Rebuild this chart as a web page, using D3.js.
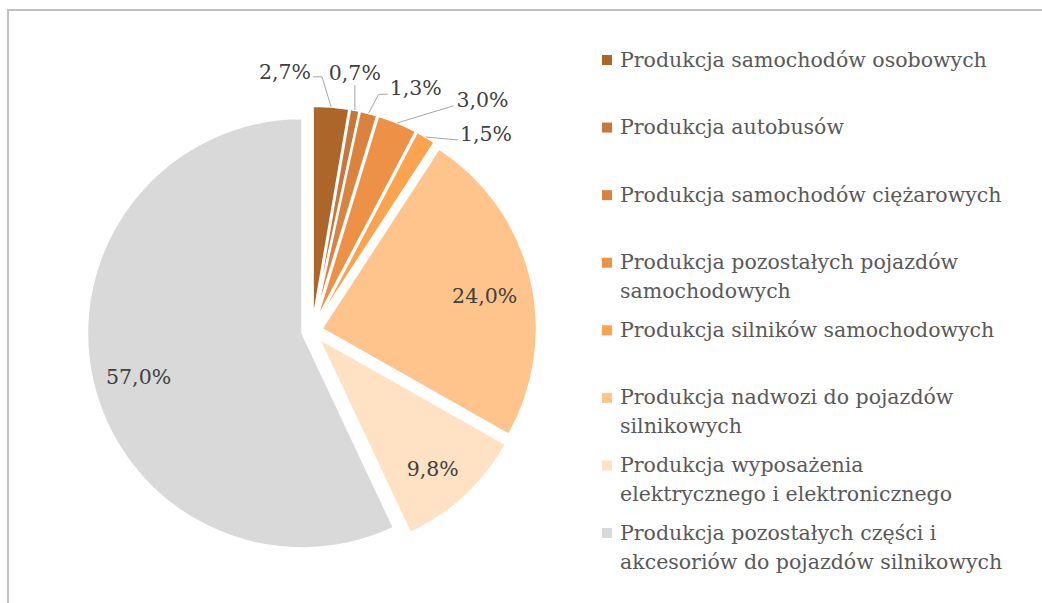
<!DOCTYPE html>
<html>
<head>
<meta charset="utf-8">
<script src="https://cdn.jsdelivr.net/npm/d3@7"></script>
<style>
  body { margin: 0; background: #fff; }
  svg text { font-family: "DejaVu Serif", serif; }
</style>
</head>
<body>
<div id="chart"></div>
<script>
var categories = [
  ["Produkcja samochodów osobowych"],
  ["Produkcja autobusów"],
  ["Produkcja samochodów ciężarowych"],
  ["Produkcja pozostałych pojazdów", "samochodowych"],
  ["Produkcja silników samochodowych"],
  ["Produkcja nadwozi do pojazdów", "silnikowych"],
  ["Produkcja wyposażenia", "elektrycznego i elektronicznego"],
  ["Produkcja pozostałych części i", "akcesoriów do pojazdów silnikowych"]
]
var values = [2.7, 0.7, 1.3, 3.0, 1.5, 24.0, 9.8, 57.0]
var colors = ["#ad6629", "#c8773a", "#d9833f", "#ec9146", "#fba34e", "#ffc48c", "#ffe1c4", "#d9d9d9"]

var width = 1042
var height = 603
var cx = 312, cy = 331, radius = 215, explode = 10
var fontSize = 20.5

// leader lines for the small slices: elbow and end relative to arc point
var outsideLabels = {
  0: { pts: [[-9, -30], [-18, -30]], tx: -2, ty: -3, anchor: "end" },
  1: { pts: [[0, -25]], tx: 0, ty: -11, anchor: "middle" },
  2: { pts: [[10, -19], [19, -19]], tx: 2, ty: -5, anchor: "start" },
  3: { pts: [[56, -17]], tx: 3, ty: -4, anchor: "start" },
  4: { pts: [[32, 3]], tx: 2, ty: -4, anchor: "start" }
}

var svg = d3.select("#chart").append("svg").attr("width", width).attr("height", height)

svg.append("rect").attr("x", 8).attr("y", 10).attr("width", 1200).attr("height", 800)
  .attr("fill", "none").attr("stroke", "#c0c0c0").attr("stroke-width", 2)

var pie = d3.pie().sort(null).value(function(d) { return d })
var arcs = pie(values)
var arc = d3.arc().innerRadius(0).outerRadius(radius)

function fmt(v) { return v.toFixed(1).replace(".", ",") + "%" }

var g = svg.append("g").attr("transform", "translate(" + cx + "," + cy + ")")

arcs.forEach(function(d, i) {
  var mid = (d.startAngle + d.endAngle) / 2
  d.mid = mid
  d.ox = Math.sin(mid) * explode
  d.oy = -Math.cos(mid) * explode
})

g.selectAll(".slice").data(arcs).enter().append("path")
  .attr("class", "slice")
  .attr("transform", function(d) { return "translate(" + d.ox + "," + d.oy + ")" })
  .attr("d", arc)
  .attr("fill", function(d, i) { return colors[i] })
  .attr("stroke", "#fff").attr("stroke-width", 2).attr("stroke-linejoin", "round")

// labels
arcs.forEach(function(d, i) {
  var lay = outsideLabels[i]
  if (lay) {
    var sx = d.ox + Math.sin(d.mid) * radius
    var sy = d.oy - Math.cos(d.mid) * radius
    var pts = [[sx, sy]].concat(lay.pts.map(function(p) { return [sx + p[0], sy + p[1]] }))
    g.append("path").attr("d", d3.line()(pts)).attr("fill", "none")
      .attr("stroke", "#a6a6a6").attr("stroke-width", 1)
    var end = pts[pts.length - 1]
    g.append("text").attr("x", end[0] + lay.tx).attr("y", end[1] + lay.ty)
      .attr("text-anchor", lay.anchor).attr("dominant-baseline", "middle")
      .attr("font-size", fontSize).attr("fill", "#404040").text(fmt(values[i]))
  } else {
    var lr = radius * 0.78
    g.append("text")
      .attr("x", d.ox + Math.sin(d.mid) * lr)
      .attr("y", d.oy - Math.cos(d.mid) * lr + 9)
      .attr("text-anchor", "middle").attr("dominant-baseline", "middle")
      .attr("font-size", fontSize).attr("fill", "#404040").text(fmt(values[i]))
  }
})

// legend
var legendY = d3.scalePoint().domain(d3.range(categories.length)).range([61, 534])
var leg = svg.append("g")
categories.forEach(function(lines, i) {
  var y = legendY(i)
  leg.append("rect").attr("x", 602).attr("y", y - 6).attr("width", 10).attr("height", 10)
    .attr("fill", colors[i])
  lines.forEach(function(t, j) {
    leg.append("text").attr("x", 620).attr("y", y + j * 29)
      .attr("dominant-baseline", "middle").attr("font-size", fontSize)
      .attr("fill", "#595959").text(t)
  })
})
</script>
</body>
</html>
